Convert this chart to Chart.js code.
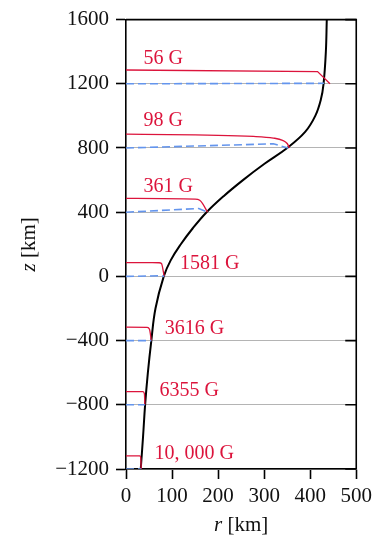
<!DOCTYPE html>
<html>
<head>
<meta charset="utf-8">
<script src="https://cdn.jsdelivr.net/npm/chart.js@4.4.1/dist/chart.umd.min.js"></script>
<style>
  html, body { margin: 0; padding: 0; background: #fff; }
</style>
</head>
<body>
<canvas id="tubeChart" width="377" height="538"></canvas>
<script>
// Flux tube boundary r(z)
const tubeR = [32, 37, 41.5, 47.5, 55, 64, 82, 97, 119, 145, 175, 212, 254, 300, 350, 389, 411, 423, 429, 434, 436];
const tubeZ = [-1200, -1000, -800, -600, -400, -200, 0, 100, 200, 300, 400, 500, 600, 700, 800, 900, 1000, 1100, 1200, 1400, 1600];

// Heights where the field is sampled, and the field strength there
const levels = [1200, 800, 400, 0, -400, -800, -1200];
const fieldLabels = ['56 G', '98 G', '361 G', '1581 G', '3616 G', '6355 G', '10, 000 G'];

// Field profiles across the tube (red), one per level
const profileR = [
  [0, 416, 443],
  [0, 277, 320, 340, 350, 355],
  [0, 150, 160, 166, 177],
  [0, 72, 77, 83],
  [0, 46, 51, 55],
  [0, 37, 40, 41],
  [0, 30, 32, 33]
];
const profileZ = [
  [1286, 1276, 1200],
  [886, 872, 862, 848, 828, 800],
  [486, 481, 474, 455, 400],
  [86, 85, 80, 0],
  [-316, -318, -330, -400],
  [-718, -718, -732, -800],
  [-1118, -1118, -1130, -1200]
];

// Reference profiles (blue dashed)
const refR = [[0, 430], [0, 320, 352], [0, 158, 177], [0, 76, 83], [0, 55], [0, 41], [0, 33]];
const refZ = [[1200, 1203], [800, 826, 800], [400, 423, 400], [0, 4, 0], [-400, -400], [-800, -800], [-1200, -1200]];

// Where each field label sits (data units)
const labelR = [38, 38, 38, 117, 84, 73, 62];
const labelZ = [1358, 968, 560, 76, -328, -710, -1108];

const RED = 'rgb(220, 20, 60)';
const BLUE = 'rgb(100, 149, 237)';
const SERIF = '"Liberation Serif", "DejaVu Serif", serif';

function toPoints(xs, ys) {
  return xs.map((x, i) => ({ x: x, y: ys[i] }));
}

const datasets = [];
levels.forEach((lev, i) => {
  datasets.push({
    data: toPoints(refR[i], refZ[i]),
    borderColor: BLUE,
    borderWidth: 1.6,
    borderDash: [8, 4],
    tension: 0
  });
  datasets.push({
    data: toPoints(profileR[i], profileZ[i]),
    borderColor: RED,
    borderWidth: 1.3,
    cubicInterpolationMode: i === 0 ? 'default' : 'monotone',
    tension: 0
  });
});
datasets.push({
  data: toPoints(tubeR, tubeZ),
  borderColor: '#000',
  borderWidth: 2,
  tension: 0.4
});

// Labels, closing frame with inward right ticks, and axis titles
const decorations = {
  id: 'decorations',
  afterDatasetsDraw(chart) {
    const { ctx, chartArea, scales } = chart;
    const xs = scales.x, ys = scales.y;
    ctx.save();

    ctx.font = '20px ' + SERIF;
    ctx.fillStyle = RED;
    ctx.textAlign = 'left';
    ctx.textBaseline = 'middle';
    fieldLabels.forEach((t, i) => {
      ctx.fillText(t, xs.getPixelForValue(labelR[i]), ys.getPixelForValue(labelZ[i]));
    });

    ctx.strokeStyle = '#000';
    ctx.lineWidth = 1.6;
    ctx.beginPath();
    ctx.moveTo(chartArea.left, chartArea.top);
    ctx.lineTo(chartArea.right, chartArea.top);
    ctx.lineTo(chartArea.right, chartArea.bottom);
    ctx.stroke();

    ctx.beginPath();
    ys.ticks.forEach(t => {
      const y = ys.getPixelForValue(t.value);
      ctx.moveTo(chartArea.right - 11, y);
      ctx.lineTo(chartArea.right, y);
    });
    ctx.stroke();

    ctx.fillStyle = '#111';
    ctx.textBaseline = 'middle';
    const italic = 'italic 21px ' + SERIF;
    const upright = '21px ' + SERIF;

    // x title: "r [km]"
    ctx.font = italic;
    const wr = ctx.measureText('r').width;
    ctx.font = upright;
    const wk = ctx.measureText(' [km]').width;
    let x0 = (chartArea.left + chartArea.right) / 2 - (wr + wk) / 2;
    const ty = chartArea.bottom + 56;
    ctx.textAlign = 'left';
    ctx.font = italic;
    ctx.fillText('r', x0, ty);
    ctx.font = upright;
    ctx.fillText(' [km]', x0 + wr, ty);

    // y title: "z [km]" rotated
    ctx.font = italic;
    const wz = ctx.measureText('z').width;
    ctx.translate(chartArea.left - 97, (chartArea.top + chartArea.bottom) / 2);
    ctx.rotate(-Math.PI / 2);
    x0 = -(wz + wk) / 2;
    ctx.fillText('z', x0, 0);
    ctx.font = upright;
    ctx.fillText(' [km]', x0 + wz, 0);

    ctx.restore();
  }
};

const ctx = document.getElementById('tubeChart').getContext('2d');
const tubeChart = new Chart(ctx, {
  type: 'scatter',
  data: { datasets: datasets },
  options: {
    responsive: false,
    animation: false,
    showLine: true,
    elements: { point: { radius: 0, hoverRadius: 0 } },
    layout: { padding: { top: 14, right: 18, left: 0, bottom: 0 } },
    plugins: {
      legend: { display: false },
      tooltip: { enabled: false }
    },
    scales: {
      x: {
        type: 'linear',
        min: 0,
        max: 500,
        afterFit(scale) { scale.height = 69; },
        ticks: {
          stepSize: 100,
          padding: 5,
          color: '#111',
          font: { family: SERIF, size: 21 }
        },
        grid: {
          drawOnChartArea: false,
          tickLength: 10,
          tickColor: '#000',
          tickWidth: 1.6
        },
        border: { color: '#000', width: 1.6 }
      },
      y: {
        type: 'linear',
        min: -1200,
        max: 1600,
        afterFit(scale) { scale.width = 126; },
        ticks: {
          stepSize: 400,
          padding: 7,
          color: '#111',
          font: { family: SERIF, size: 21 },
          callback: v => (v < 0 ? '\u2212' + Math.abs(v) : '' + v)
        },
        grid: {
          color: '#b4b4b4',
          lineWidth: 1,
          tickLength: 10,
          tickColor: '#000',
          tickWidth: 1.6
        },
        border: { color: '#000', width: 1.6 }
      }
    }
  },
  plugins: [decorations]
});
</script>
</body>
</html>
